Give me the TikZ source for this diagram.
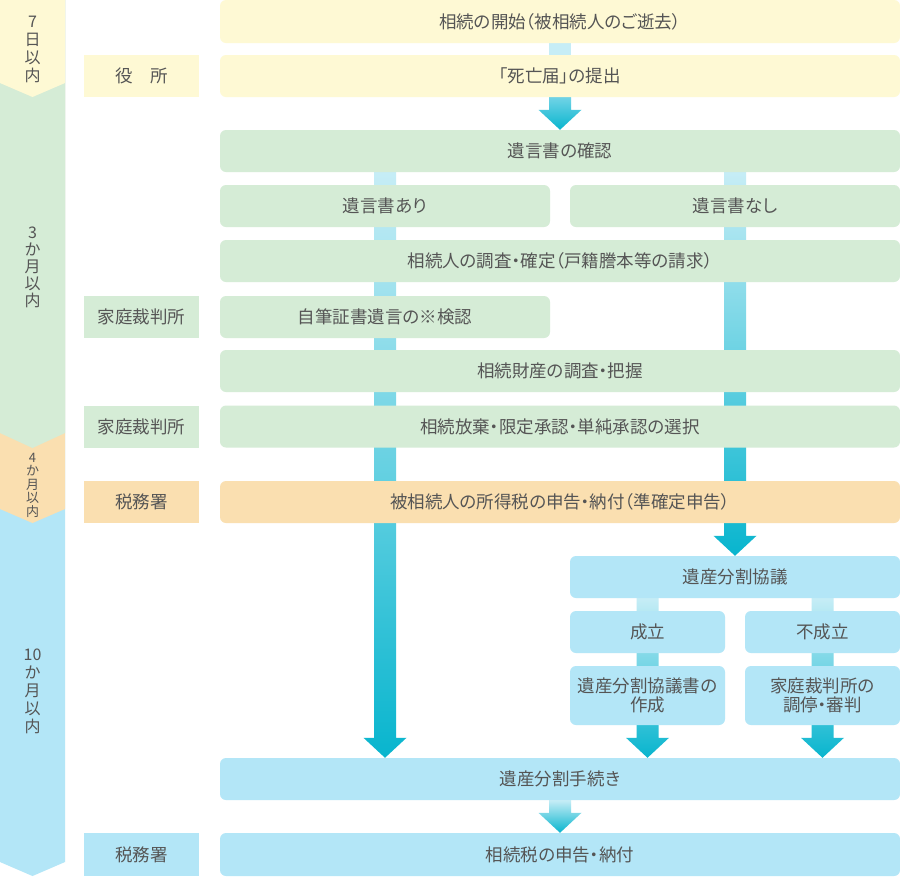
\documentclass[tikz,border=0pt]{standalone}
\usepackage{fontspec}
\setmainfont{Noto Sans CJK JP}[RawFeature={+palt}]
\usetikzlibrary{calc}
\pgfdeclarelayer{bottom}
\pgfdeclarelayer{background}
\pgfsetlayers{bottom,background,main}
\definecolor{txt}{HTML}{555555}
\definecolor{cyel}{HTML}{FEF9D4}
\definecolor{cgrn}{HTML}{D5ECD6}
\definecolor{cora}{HTML}{FADFB0}
\definecolor{cblu}{HTML}{B3E6F7}
\definecolor{cyl}{HTML}{C6EDF6}
\definecolor{cym}{HTML}{70D3E6}
\definecolor{cyd}{HTML}{08B5CE}
\newcommand\fatarrow[4]{\shade[top color=#3, bottom color=#4] let \p1=(#1), \p2=(#2) in (\x1-11pt,\y1) -- (\x1+11pt,\y1) -- (\x1+11pt,\y2+20pt) -- (\x1+21.5pt,\y2+20pt) -- (\x1,\y2) -- (\x1-21.5pt,\y2+20pt) -- (\x1-11pt,\y2+20pt) -- cycle;}
\tikzset{
  box/.style={rectangle, rounded corners=6pt, inner sep=0pt, text=txt, font=\fontsize{17.5}{19.5}\selectfont, align=center},
  full/.style={box, minimum width=680pt, minimum height=42pt},
  half/.style={box, minimum width=330pt, minimum height=42pt},
  quart/.style={box, minimum width=155pt, minimum height=42pt},
  lab/.style={rectangle, inner sep=0pt, minimum width=115pt, minimum height=42pt, text=txt, font=\fontsize{17.5}{19.5}\selectfont},
  band/.style={text=txt, font=\fontsize{16}{18}\selectfont, align=center, inner sep=0pt},
}
\begin{document}
\begin{tikzpicture}[x=1pt,y=-1pt]
\useasboundingbox (0,0) rectangle (900,876);
\begin{pgfonlayer}{bottom}
\fill[white] (0,0) rectangle (900,876);
\end{pgfonlayer}
% left time band
\fill[cblu] (0,0) -- (65,0) -- (65,862) -- (32.5,876) -- (0,862) -- cycle;
\fill[cora] (0,0) -- (65,0) -- (65,509) -- (32.5,523) -- (0,509) -- cycle;
\fill[cgrn] (0,0) -- (65,0) -- (65,433) -- (32.5,448) -- (0,433) -- cycle;
\fill[cyel] (0,0) -- (65,0) -- (65,83) -- (32.5,97) -- (0,83) -- cycle;
\node[band] (t1) at (32.5,49) {7\\日\\以\\内};
\node[band, font=\fontsize{16}{17}\selectfont] (t2) at (32.5,267) {3\\か\\月\\以\\内};
\node[band, font=\fontsize{13}{13.5}\selectfont] (t3) at (32.5,485) {4\\か\\月\\以\\内};
\node[band] (t4) at (32.5,691) {10\\か\\月\\以\\内};
% labels
\node[lab, fill=cyel] (l1) at (141.5,76) {役　所};
\node[lab, fill=cgrn] (l2) at (141.5,317) {家庭裁判所};
\node[lab, fill=cgrn] (l3) at (141.5,426.5) {家庭裁判所};
\node[lab, fill=cora] (l4) at (141.5,502) {税務署};
\node[lab, fill=cblu, minimum height=43pt] (l5) at (141.5,854.5) {税務署};
% main boxes
\node[full, fill=cyel, minimum height=43pt] (r1) at (560,21.5) {相続の開始（被相続人のご逝去）};
\node[full, fill=cyel] (r2) at (560,76) {「死亡届」の提出};
\node[full, fill=cgrn] (r3) at (560,151) {遺言書の確認};
\node[half, fill=cgrn] (r4a) at (385,206) {遺言書あり};
\node[half, fill=cgrn] (r4b) at (735,206) {遺言書なし};
\node[full, fill=cgrn] (r5) at (560,261) {相続人の調査・確定（戸籍謄本等の請求）};
\node[half, fill=cgrn] (r6) at (385,317) {自筆証書遺言の※検認};
\node[full, fill=cgrn] (r7) at (560,371) {相続財産の調査・把握};
\node[full, fill=cgrn] (r8) at (560,426.5) {相続放棄・限定承認・単純承認の選択};
\node[full, fill=cora] (r9) at (560,502) {被相続人の所得税の申告・納付（準確定申告）};
\node[half, fill=cblu] (r10) at (735,577) {遺産分割協議};
\node[quart, fill=cblu] (r11a) at (647.5,632) {成立};
\node[quart, fill=cblu] (r11b) at (822.5,632) {不成立};
\node[quart, fill=cblu, minimum height=59pt] (r12a) at (647.5,695.5) {遺産分割協議書の\\作成};
\node[quart, fill=cblu, minimum height=59pt] (r12b) at (822.5,695.5) {家庭裁判所の\\調停・審判};
\node[full, fill=cblu] (r13) at (560,779) {遺産分割手続き};
\node[full, fill=cblu, minimum height=43pt] (r14) at (560,854.5) {相続税の申告・納付};
% connectors
\begin{pgfonlayer}{background}
\fill[cyl] ($(r1.south)+(-11,0)$) rectangle ($(r2.north)+(11,0)$);
\fatarrow{r2.south}{r3.north}{cym}{cyd}
\fatarrow{r4a.center |- r3.south}{r4a.center |- r13.north}{cyl}{cyd}
\fatarrow{r4b.center |- r3.south}{r4b.center |- r10.north}{cyl}{cyd}
\fatarrow{r11a.center |- r10.south}{r11a.center |- r13.north}{cyl}{cyd}
\fatarrow{r11b.center |- r10.south}{r11b.center |- r13.north}{cyl}{cyd}
\fatarrow{r13.south}{r14.north}{cyl}{cyd}
\end{pgfonlayer}
\end{tikzpicture}
\end{document}
